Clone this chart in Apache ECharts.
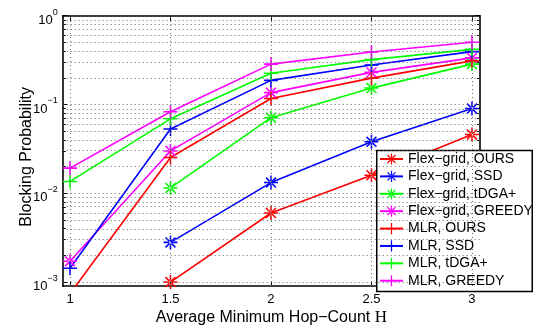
<!DOCTYPE html>
<html>
<head>
<meta charset="utf-8">
<script src="https://cdn.jsdelivr.net/npm/echarts@6/dist/echarts.min.js"></script>
<style>html,body{margin:0;padding:0;background:#fff;}#c{width:547px;height:331px;}</style>
</head>
<body>
<div id="c"></div>
<script>
// ---- data ----
const xValues = [1, 1.5, 2, 2.5, 3];
const xTickLabels = [1, 1.5, 2, 2.5, 3];
const yDecades = [-3, -2, -1, 0];
const seriesNames = [
  'Flex−grid, OURS', 'Flex−grid, SSD', 'Flex−grid, tDGA+', 'Flex−grid, GREEDY',
  'MLR, OURS', 'MLR, SSD', 'MLR, tDGA+', 'MLR, GREEDY'
];
const flexOurs   = [null, 0.001, 0.006, 0.016, 0.046];
const flexSsd    = [null, 0.0028, 0.0132, 0.038, 0.090];
const flexTdga   = [null, 0.0115, 0.071, 0.153, 0.285];
const flexGreedy = [0.00172, 0.030, 0.136, 0.23, 0.335];
const mlrOurs    = [0.00074, 0.0253, 0.117, 0.198, 0.31];
const mlrSsd     = [0.00143, 0.053, 0.187, 0.278, 0.394];
const mlrTdga    = [0.0136, 0.069, 0.225, 0.32, 0.418];
const mlrGreedy  = [0.0192, 0.083, 0.285, 0.39, 0.503];

const seriesValues = [flexOurs, flexSsd, flexTdga, flexGreedy, mlrOurs, mlrSsd, mlrTdga, mlrGreedy];
const seriesColors = ['#ff0000', '#0000ff', '#00ff00', '#ff00ff', '#ff0000', '#0000ff', '#00ff00', '#ff00ff'];

// ---- styling helpers ----
const PLUS = 'path://M-1.1,-10L1.1,-10L1.1,10L-1.1,10Z M-10,-1.1L10,-1.1L10,1.1L-10,1.1Z';
const STAR = 'path://M-1.1,-10L1.1,-10L1.1,10L-1.1,10Z M-10,-1.1L10,-1.1L10,1.1L-10,1.1Z ' +
             'M-7.85,-6.3L6.3,7.85L7.85,6.3L-6.3,-7.85Z M-6.3,7.85L7.85,-6.3L6.3,-7.85L-7.85,6.3Z';
const FONT = 'Liberation Sans, Arial, Helvetica, sans-serif';
const log10 = v => (v == null ? null : Math.log10(v));

const minorY = [];
const allGridY = [];
yDecades.forEach(d => {
  if (d < 0) {
    for (let k = 1; k <= 9; k++) {
      const v = Math.log10(k * Math.pow(10, d));
      allGridY.push(v);
      if (k > 1) minorY.push(v);
    }
  } else {
    allGridY.push(d);
  }
});

const Y_MIN = -3.044, Y_MAX = 0;
const X_MIN = 0.9637, X_MAX = 3.04;
const axisLineStyle = { color: '#000', width: 1.6 };

const gridSeries = {
  name: '__grid', type: 'line', data: [], z: 1, silent: true,
  xAxisIndex: 0, yAxisIndex: 0,
  markLine: {
    silent: true, symbol: ['none', 'none'], animation: false,
    label: { show: false },
    lineStyle: { type: [1, 3], color: '#666', width: 1 },
    emphasis: { disabled: true },
    data: allGridY.filter(v => v > Y_MIN + 0.01 && v < Y_MAX - 0.01).map(v => ({ yAxis: v }))
      .concat(xTickLabels.map(v => ({ xAxis: v })))
  }
};

const dataSeries = seriesNames.map((name, i) => ({
  name, type: 'line', z: 3,
  data: xValues.map((x, j) => [x, log10(seriesValues[i][j])]),
  symbol: i < 4 ? STAR : PLUS,
  symbolSize: 14,
  showAllSymbol: true,
  clip: true,
  connectNulls: false,
  lineStyle: { color: seriesColors[i], width: 1.6 },
  itemStyle: { color: seriesColors[i], borderWidth: 0 },
  emphasis: { disabled: true }
}));

const chart = echarts.init(document.getElementById('c'), null, { renderer: 'canvas' });
chart.setOption({
  animation: false,
  backgroundColor: '#fff',
  textStyle: { fontFamily: FONT },
  grid: { left: 62.7, top: 15.7, width: 417.3, height: 275, containLabel: false },
  graphic: [{
    type: 'rect', z: 5, left: 376, top: 149.7,
    shape: { width: 155.5, height: 141 },
    style: { fill: '#fff', stroke: '#000', lineWidth: 1.5 }
  }],
  legend: {
    z: 6, orient: 'vertical', left: 379, top: 152, padding: 0,
    itemWidth: 23, itemHeight: 14, itemGap: 3.39,
    data: seriesNames,
    textStyle: { fontFamily: FONT, fontSize: 14, lineHeight: 14, color: '#000' }
  },
  xAxis: [{
    type: 'value', position: 'bottom', min: X_MIN, max: X_MAX,
    axisLine: { show: true, onZero: false, lineStyle: axisLineStyle },
    axisTick: { show: true, inside: true, length: 5, customValues: xTickLabels, lineStyle: { color: '#000', width: 1 } },
    axisLabel: { show: true, customValues: xTickLabels, margin: 7, fontSize: 13, color: '#000', fontFamily: FONT,
      formatter: v => String(Math.round(v * 10) / 10) },
    splitLine: { show: false },
    name: '{a|Average Minimum Hop−Count }{h|H}',
    nameLocation: 'middle', nameGap: 23, nameMoveOverlap: false,
    nameTextStyle: {
      rich: {
        a: { fontFamily: FONT, fontSize: 16, color: '#000' },
        h: { fontFamily: 'Liberation Serif, Times New Roman, serif', fontSize: 17, color: '#000' }
      }
    }
  }, {
    type: 'value', position: 'top', min: X_MIN, max: X_MAX,
    axisLine: { show: true, onZero: false, lineStyle: axisLineStyle },
    axisTick: { show: true, inside: true, length: 5, customValues: xTickLabels, lineStyle: { color: '#000', width: 1 } },
    axisLabel: { show: false },
    splitLine: { show: false }
  }],
  yAxis: [{
    type: 'value', position: 'left', min: Y_MIN, max: Y_MAX,
    axisLine: { show: true, onZero: false, lineStyle: axisLineStyle },
    axisTick: { show: true, inside: true, length: 5, customValues: yDecades, lineStyle: { color: '#000', width: 1 } },
    axisLabel: {
      show: true, customValues: yDecades, margin: 5, color: '#000',
      formatter: v => {
        const e = Math.round(v);
        return '{b|10}{s|' + (e === 0 ? '0' : '−' + (-e)) + '}';
      },
      rich: {
        b: { fontFamily: FONT, fontSize: 13, color: '#000', padding: [9, 0, 0, 0] },
        s: { fontFamily: FONT, fontSize: 9, color: '#000', padding: [0, 0, 7, 0] }
      }
    },
    splitLine: { show: false },
    name: 'Blocking Probability',
    nameLocation: 'middle', nameGap: 28, nameMoveOverlap: false,
    nameTextStyle: { fontFamily: FONT, fontSize: 16, color: '#000', padding: [0, 12, 0, 0] }
  }, {
    type: 'value', position: 'right', min: Y_MIN, max: Y_MAX,
    axisLine: { show: true, onZero: false, lineStyle: axisLineStyle },
    axisTick: { show: true, inside: true, length: 5, customValues: yDecades, lineStyle: { color: '#000', width: 1 } },
    axisLabel: { show: false },
    splitLine: { show: false }
  }, {
    type: 'value', position: 'left', min: Y_MIN, max: Y_MAX,
    axisLine: { show: false },
    axisTick: { show: true, inside: true, length: 3, customValues: minorY, lineStyle: { color: '#000', width: 1 } },
    axisLabel: { show: false },
    splitLine: { show: false }
  }, {
    type: 'value', position: 'right', min: Y_MIN, max: Y_MAX,
    axisLine: { show: false },
    axisTick: { show: true, inside: true, length: 3, customValues: minorY, lineStyle: { color: '#000', width: 1 } },
    axisLabel: { show: false },
    splitLine: { show: false }
  }],
  series: [gridSeries].concat(dataSeries)
});
</script>
</body>
</html>
